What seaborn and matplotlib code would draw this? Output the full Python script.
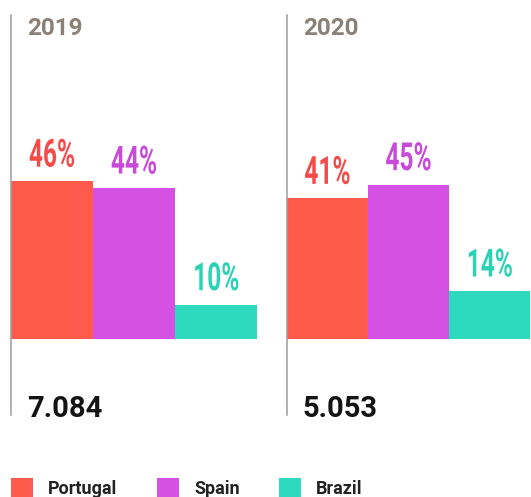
import matplotlib
matplotlib.use("Agg")
import matplotlib.pyplot as plt
from matplotlib.patches import Patch
from matplotlib.patheffects import AbstractPathEffect
from matplotlib.transforms import Affine2D
import seaborn as sns
import pandas as pd

# Data
years = ["2019", "2020"]
countries = ["Portugal", "Spain", "Brazil"]
share_2019 = [46, 44, 10]
share_2020 = [41, 45, 14]
totals = ["7.084", "5.053"]

bar_colors = {"Portugal": "#FF5A4B", "Spain": "#D551E4", "Brazil": "#2EDABD"}
label_colors = {"Portugal": "#F54B48", "Spain": "#C84AD8", "Brazil": "#2CD2B4"}

df = pd.DataFrame({
    "year": [y for y in years for _ in countries],
    "country": countries * len(years),
    "share": share_2019 + share_2020,
})


class Condense(AbstractPathEffect):
    """Narrow the glyphs horizontally about their own centre (condensed look)."""

    def __init__(self, sx=0.75):
        super().__init__()
        self._sx = sx

    def draw_path(self, renderer, gc, tpath, affine, rgbFace=None):
        ext = tpath.get_extents(affine)
        cx = 0.5 * (ext.x0 + ext.x1)
        squeeze = Affine2D().translate(-cx, 0).scale(self._sx, 1).translate(cx, 0)
        renderer.draw_path(gc, tpath, affine + squeeze, rgbFace)


sns.set_style("white")
plt.rcParams["font.family"] = ["Roboto", "DejaVu Sans"]

W, H = 531, 497
fig = plt.figure(figsize=(W / 100, H / 100), dpi=100)

# panel geometry in pixels: (left, width)
panels = [(11, 246), (287, 243)]
top_px, bottom_px = 15, 415
zero_px = 339
px_per_pct = 3.43

ymin = -(bottom_px - zero_px) / px_per_pct
ymax = (zero_px - top_px) / px_per_pct

for (left, width), year, total in zip(panels, years, totals):
    ax = fig.add_axes([left / W, (H - bottom_px) / H, width / W, (bottom_px - top_px) / H])
    sub = df[df["year"] == year]
    sns.barplot(data=sub, x="country", y="share", hue="country", order=countries,
                hue_order=countries, palette=bar_colors, width=1.0, saturation=1,
                legend=False, ax=ax, zorder=1, linewidth=0)
    ax.set_xlim(-0.5, 2.5)
    ax.set_ylim(ymin, ymax)
    ax.set_xlabel("")
    ax.set_ylabel("")
    ax.set_xticks([])
    ax.set_yticks([])
    for side in ["top", "right", "bottom"]:
        ax.spines[side].set_visible(False)
    ax.spines["left"].set_color("#9c9c9c")
    ax.spines["left"].set_linewidth(1.1)
    ax.patch.set_alpha(0)

    for i, (c, v) in enumerate(zip(sub["country"], sub["share"])):
        ax.text(i, v + 14.5 / px_per_pct, f"{v}%", ha="center", va="baseline",
                fontsize=28, fontweight="bold", color=label_colors[c],
                path_effects=[Condense(0.63)])

    xoff = 16 / width
    ax.text(xoff, (bottom_px - 35) / (bottom_px - top_px), year, transform=ax.transAxes,
            ha="left", va="baseline", fontsize=17.5, fontweight="bold", color="#8A8078")
    ax.text(xoff, (bottom_px - 417) / (bottom_px - top_px), total, transform=ax.transAxes,
            ha="left", va="baseline", fontsize=21, fontweight="bold", color="#141414")

handles = [Patch(facecolor=bar_colors[c], edgecolor="none", label=c) for c in countries]
fig.legend(handles=handles, loc="center left", bbox_to_anchor=(11 / W, 1 - 488 / H),
           ncol=3, frameon=False, prop={"weight": "bold", "size": 13},
           handlelength=1.2, handleheight=1.2, handletextpad=0.85, columnspacing=2.2,
           borderpad=0, borderaxespad=0, labelcolor="#222222")

fig.savefig("out.png", dpi=100)
